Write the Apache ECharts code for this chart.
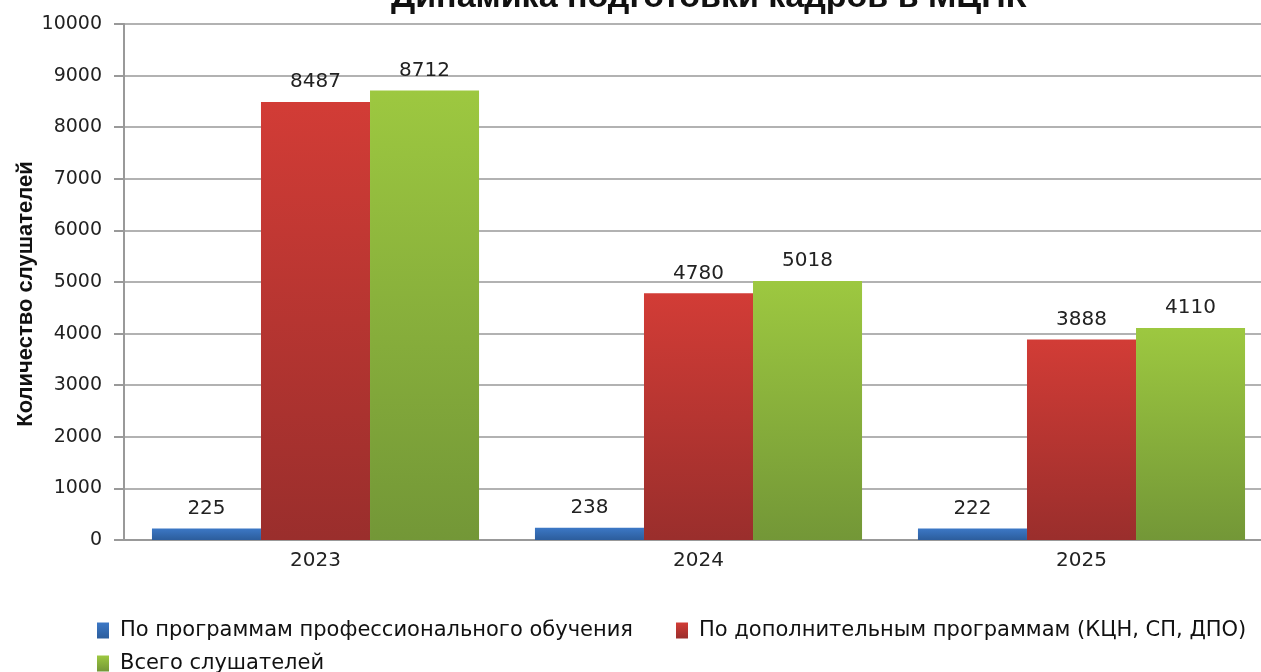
<!DOCTYPE html>
<html>
<head>
<meta charset="utf-8">
<script src="https://cdn.jsdelivr.net/npm/echarts@6/dist/echarts.min.js"></script>
<style>
  html, body { margin: 0; padding: 0; background: #fff; }
  #chart { width: 1261px; height: 672px; }
</style>
</head>
<body>
<div id="chart"></div>
<script>
// Training dynamics by year
const years = ['2023', '2024', '2025'];
const seriesNames = [
  'По программам профессионального обучения',
  'По дополнительным программам (КЦН, СП, ДПО)',
  'Всего слушателей'
];
const professional = [225, 238, 222];
const additional = [8487, 4780, 3888];
const total = [8712, 5018, 4110];
const yTicks = [0, 1000, 2000, 3000, 4000, 5000, 6000, 7000, 8000, 9000, 10000];

function grad(top, bottom) {
  return new echarts.graphic.LinearGradient(0, 0, 0, 1, [
    { offset: 0, color: top },
    { offset: 1, color: bottom }
  ]);
}

const palette = [
  { legend: '#3b74c2', fill: grad('#3c78c6', '#2c5d9c') },
  { legend: '#cf3a34', fill: grad('#d23c36', '#9a2e2c') },
  { legend: '#98c43e', fill: grad('#9dc840', '#739737') }
];

const labelStyle = {
  show: true,
  position: 'top',
  distance: 10,
  fontSize: 20,
  color: '#222',
  fontFamily: 'DejaVu Sans'
};

function makeSeries(name, data, idx) {
  return {
    name: name,
    type: 'bar',
    data: data,
    barGap: '0%',
    barCategoryGap: '14.6%',
    itemStyle: { color: palette[idx].fill },
    label: labelStyle
  };
}

const legendText = { fontSize: 21, color: '#111', fontFamily: 'DejaVu Sans', padding: [0, 0, 0, 6] };
const legendBase = {
  itemWidth: 12,
  itemHeight: 16,
  itemGap: 43,
  icon: 'rect',
  orient: 'horizontal',
  textStyle: legendText
};

const chart = echarts.init(document.getElementById('chart'), null, { renderer: 'canvas' });
chart.setOption({
  animation: false,
  color: palette.map(p => p.legend),
  title: {
    text: 'Динамика подготовки кадров в МЦПК',
    left: 386,
    top: -24,
    textStyle: { fontSize: 34, fontWeight: 'bold', color: '#111', fontFamily: 'Liberation Sans' }
  },
  grid: { left: 124, top: 24, width: 1149, height: 516, containLabel: false, outerBoundsMode: 'none' },
  legend: [
    Object.assign({ data: [seriesNames[0], seriesNames[1]], left: 92, top: 615 }, legendBase),
    Object.assign({ data: [seriesNames[2]], left: 92, top: 648 }, legendBase)
  ],
  xAxis: {
    type: 'category',
    data: years,
    axisLine: { lineStyle: { color: '#999', width: 2 } },
    axisTick: { show: false },
    axisLabel: { fontSize: 20, color: '#222', margin: 11, fontFamily: 'DejaVu Sans' }
  },
  yAxis: {
    type: 'value',
    min: yTicks[0],
    max: yTicks[yTicks.length - 1],
    interval: 1000,
    name: 'Количество слушателей',
    nameLocation: 'middle',
    nameGap: 87,
    nameRotate: 90,
    nameMoveOverlap: false,
    nameTextStyle: {
      fontSize: 22, fontWeight: 'bold', color: '#111', fontFamily: 'Liberation Sans',
      padding: [0, 24, 0, 0]
    },
    axisLine: { show: true, lineStyle: { color: '#999', width: 2 } },
    axisTick: { show: true, length: 10, lineStyle: { color: '#999', width: 2 } },
    axisLabel: {
      fontSize: 19, color: '#222', margin: 22, fontFamily: 'DejaVu Sans',
      formatter: v => String(v)
    },
    splitLine: { lineStyle: { color: '#999', width: 1.5 } }
  },
  series: [
    makeSeries(seriesNames[0], professional, 0),
    makeSeries(seriesNames[1], additional, 1),
    makeSeries(seriesNames[2], total, 2)
  ]
});
</script>
</body>
</html>
